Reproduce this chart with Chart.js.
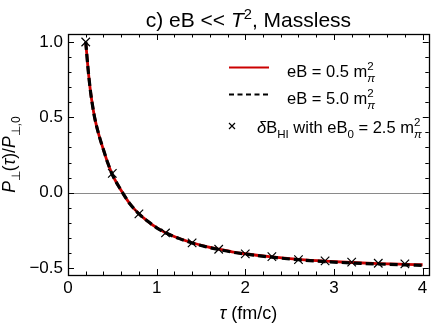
<!DOCTYPE html>
<html>
<head>
<meta charset="utf-8">
<script src="https://cdn.jsdelivr.net/npm/chart.js@4.4.0/dist/chart.umd.min.js"></script>
<style>
  html, body { margin: 0; padding: 0; background: #fff; }
  canvas { display: block; }
</style>
</head>
<body>
<canvas id="chart" width="436" height="327"></canvas>
<script>
// curve values
const tauLine = [0.2, 0.225, 0.25, 0.275, 0.3, 0.35, 0.4, 0.45, 0.5, 0.6, 0.7, 0.8, 0.9, 1.0, 1.1, 1.25, 1.4, 1.55, 1.7, 1.85, 2.0, 2.3, 2.6, 2.9, 3.2, 3.5, 3.8, 4.0];
const ratioEB05 = [1.0, 0.83, 0.69, 0.585, 0.5, 0.38, 0.285, 0.195, 0.12, 0.015, -0.075, -0.14, -0.19, -0.232, -0.265, -0.302, -0.332, -0.356, -0.375, -0.392, -0.405, -0.426, -0.442, -0.454, -0.463, -0.47, -0.475, -0.478];
const ratioEB50 = [1.0, 0.83, 0.69, 0.585, 0.5, 0.38, 0.285, 0.195, 0.12, 0.015, -0.075, -0.14, -0.19, -0.233, -0.266, -0.303, -0.334, -0.358, -0.377, -0.394, -0.407, -0.428, -0.445, -0.457, -0.466, -0.473, -0.479, -0.482];
// crosses (delta B_HI)
const tauHI = [0.2, 0.5, 0.8, 1.1, 1.4, 1.7, 2.0, 2.3, 2.6, 2.9, 3.2, 3.5, 3.8];
const ratioHI = [1.0, 0.128, -0.14, -0.267, -0.333, -0.375, -0.406, -0.424, -0.444, -0.452, -0.461, -0.468, -0.472];

const xTicks = [0, 1, 2, 3, 4];
const yTicks = [-0.5, 0, 0.5, 1.0];

const FAM = "'Liberation Sans', Arial, sans-serif";
const RED = '#cc0000';

function fontStr(size, italic) {
  return (italic ? 'italic ' : '') + size + 'px ' + FAM;
}

// draw runs of text with italics, sup/sub and stacked sup+sub
function drawRich(ctx, runs, x, y, size, align) {
  const small = size * 0.7;
  const widths = runs.map(r => {
    if (r.stack) {
      ctx.font = fontStr(small, false);
      return Math.max(...r.stack.map(s => ctx.measureText(s).width));
    }
    ctx.font = fontStr(r.sup || r.sub ? small : size, r.it);
    return ctx.measureText(r.t).width;
  });
  const total = widths.reduce((a, b) => a + b, 0);
  let cx = align === 'center' ? x - total / 2 : x;
  ctx.textAlign = 'left';
  ctx.textBaseline = 'alphabetic';
  runs.forEach((r, i) => {
    if (r.stack) {
      ctx.font = fontStr(small, false);
      ctx.fillText(r.stack[0], cx, y - size * 0.4);
      ctx.font = fontStr(small, true);
      ctx.fillText(r.stack[1], cx, y + size * 0.28);
    } else {
      ctx.font = fontStr(r.sup || r.sub ? small : size, r.it);
      const dy = r.sup ? -size * 0.4 : r.sub ? size * 0.28 : 0;
      ctx.fillText(r.t, cx, y + dy);
    }
    cx += widths[i];
  });
}

const framePlugin = {
  id: 'frame',
  beforeDatasetsDraw(chart) {
    const { ctx, chartArea: a, scales: { y } } = chart;
    const y0 = Math.round(y.getPixelForValue(0)) + 0.5;
    ctx.save();
    ctx.strokeStyle = '#8a8a8a';
    ctx.lineWidth = 1;
    ctx.beginPath();
    ctx.moveTo(a.left, y0);
    ctx.lineTo(a.right, y0);
    ctx.stroke();
    ctx.restore();
  },
  afterDraw(chart) {
    const { ctx, chartArea: a, scales: { x, y } } = chart;
    ctx.save();
    ctx.strokeStyle = '#000';
    ctx.lineWidth = 1;
    ctx.beginPath();
    // x ticks, bottom and top, pointing in
    for (let k = 0; k <= 20; k++) {
      const v = k * 0.2;
      const px = Math.round(x.getPixelForValue(v)) + 0.5;
      const len = k % 5 === 0 ? 6 : 3.5;
      ctx.moveTo(px, a.bottom); ctx.lineTo(px, a.bottom - len);
      ctx.moveTo(px, a.top); ctx.lineTo(px, a.top + len);
    }
    // y ticks, left and right
    for (let k = -5; k <= 10; k++) {
      const v = k * 0.1;
      const py = Math.round(y.getPixelForValue(v)) + 0.5;
      const len = k % 5 === 0 ? 6 : 3.5;
      ctx.moveTo(a.left, py); ctx.lineTo(a.left + len, py);
      ctx.moveTo(a.right, py); ctx.lineTo(a.right - len, py);
    }
    ctx.stroke();
    ctx.lineWidth = 1.3;
    ctx.strokeRect(Math.round(a.left) + 0.5, Math.round(a.top) + 0.5,
      Math.round(a.right - a.left), Math.round(a.bottom - a.top));

    ctx.fillStyle = '#000';
    const cxMid = (a.left + a.right) / 2;
    // title
    drawRich(ctx, [{ t: 'c) eB << ' }, { t: 'T', it: true }, { t: '2', sup: true }, { t: ', Massless' }],
      cxMid, 27, 21, 'center');
    // x title
    drawRich(ctx, [{ t: 'τ', it: true }, { t: ' (fm/c)' }], cxMid, 319, 18, 'center');
    // y title, rotated
    ctx.save();
    ctx.translate(15, (a.top + a.bottom) / 2);
    ctx.rotate(-Math.PI / 2);
    drawRich(ctx, [{ t: 'P', it: true }, { t: '⊥', sub: true }, { t: '(' }, { t: 'τ', it: true }, { t: ')/' },
      { t: 'P', it: true }, { t: '⊥,0', sub: true }], 0, 0, 17.5, 'center');
    ctx.restore();

    // legend
    ctx.lineWidth = 2;
    ctx.strokeStyle = RED;
    ctx.beginPath(); ctx.moveTo(229, 67.5); ctx.lineTo(269, 67.5); ctx.stroke();
    ctx.strokeStyle = '#000';
    ctx.setLineDash([5, 3.5]);
    ctx.beginPath(); ctx.moveTo(229, 94.5); ctx.lineTo(269, 94.5); ctx.stroke();
    ctx.setLineDash([]);
    ctx.lineWidth = 1.2;
    ctx.beginPath();
    ctx.moveTo(229, 123); ctx.lineTo(235, 129);
    ctx.moveTo(235, 123); ctx.lineTo(229, 129);
    ctx.stroke();
    drawRich(ctx, [{ t: 'eB = 0.5 m' }, { stack: ['2', 'π'] }], 287, 77, 16.5, 'left');
    drawRich(ctx, [{ t: 'eB = 5.0 m' }, { stack: ['2', 'π'] }], 287, 104, 16.5, 'left');
    drawRich(ctx, [{ t: 'δ', it: true }, { t: 'B' }, { t: 'HI', sub: true }, { t: ' with eB' }, { t: '0', sub: true },
      { t: ' = 2.5 m' }, { stack: ['2', 'π'] }], 257, 133, 16.5, 'left');
    ctx.restore();
  }
};

const tickFont = { size: 17, family: FAM };

new Chart(document.getElementById('chart'), {
  type: 'scatter',
  data: {
    datasets: [
      {
        label: 'δB_HI with eB0 = 2.5',
        data: tauHI.map((t, i) => ({ x: t, y: ratioHI[i] })),
        showLine: false,
        pointStyle: 'crossRot',
        pointRadius: 6,
        pointBorderWidth: 1.2,
        pointBorderColor: '#000',
        pointBackgroundColor: '#000',
        order: 0
      },
      {
        label: 'eB = 5.0',
        data: tauLine.map((t, i) => ({ x: t, y: ratioEB50[i] })),
        showLine: true,
        borderColor: '#000',
        borderWidth: 3.2,
        borderDash: [8, 4],
        pointRadius: 0,
        cubicInterpolationMode: 'monotone',
        order: 1
      },
      {
        label: 'eB = 0.5',
        data: tauLine.map((t, i) => ({ x: t, y: ratioEB05[i] })),
        showLine: true,
        borderColor: RED,
        borderWidth: 2.8,
        pointRadius: 0,
        cubicInterpolationMode: 'monotone',
        order: 2
      }
    ]
  },
  options: {
    responsive: false,
    animation: false,
    devicePixelRatio: 1,
    layout: { padding: { top: 34, right: 4, left: 0, bottom: 0 } },
    plugins: { legend: { display: false }, tooltip: { enabled: false }, title: { display: false } },
    scales: {
      x: {
        type: 'linear', min: 0, max: 4.07,
        grid: { display: false, drawTicks: false },
        border: { display: false },
        ticks: { padding: 3, font: tickFont, color: '#000', maxRotation: 0 },
        afterBuildTicks: s => { s.ticks = xTicks.map(v => ({ value: v })); },
        afterFit: s => { s.height = 52; }
      },
      y: {
        type: 'linear', min: -0.546, max: 1.053,
        grid: { display: false, drawTicks: false },
        border: { display: false },
        ticks: {
          padding: 5, font: tickFont, color: '#000',
          callback: v => (v < 0 ? '−' : '') + Math.abs(v).toFixed(1)
        },
        afterBuildTicks: s => { s.ticks = yTicks.map(v => ({ value: v })); },
        afterFit: s => { s.width = 68; }
      }
    }
  },
  plugins: [framePlugin]
});
</script>
</body>
</html>
